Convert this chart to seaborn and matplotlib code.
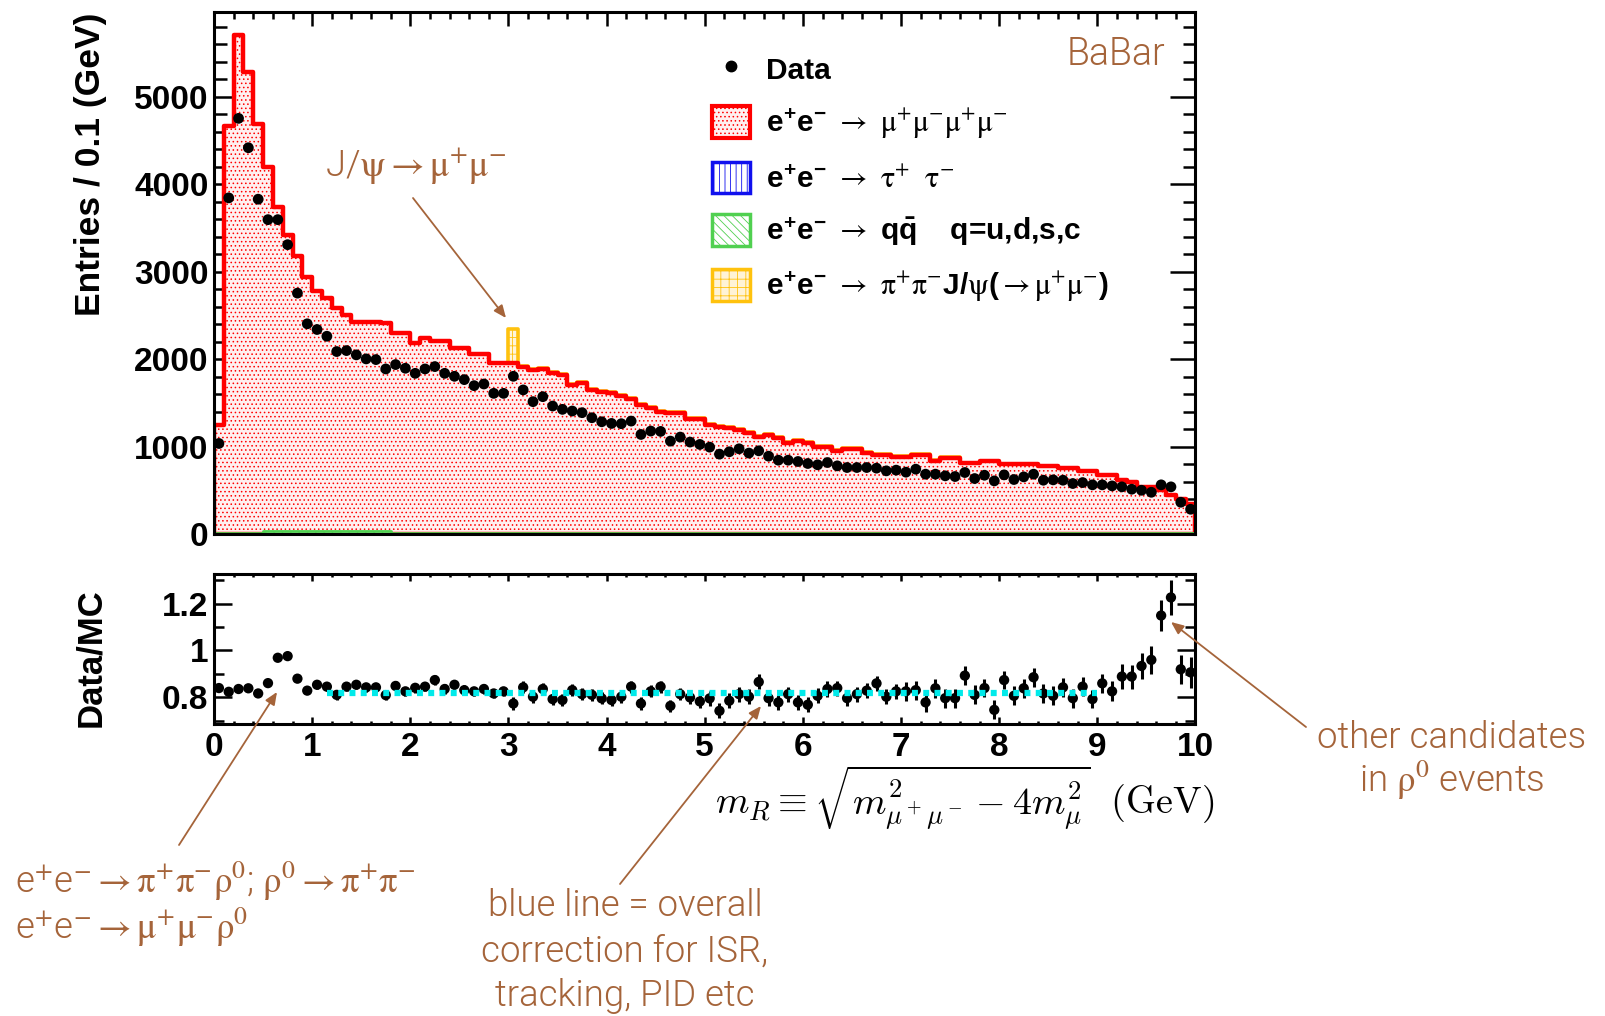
import numpy as np
import pandas as pd
import matplotlib
matplotlib.use("Agg")
import matplotlib.pyplot as plt
import seaborn as sns
from matplotlib import font_manager as fm
from matplotlib.ticker import MultipleLocator, FuncFormatter
from matplotlib.patches import Patch, FancyArrowPatch
from matplotlib.lines import Line2D
from matplotlib.transforms import IdentityTransform

# ---------------- data ----------------
bin_width = 0.1
mass_range = (0.0, 10.0)

data_counts = [1035, 3843, 4752, 4416, 3828, 3594, 3594, 3308, 2754, 2403,
               2338, 2261, 2086, 2097, 2048, 2002, 1994, 1887, 1937, 1895,
               1837, 1887, 1914, 1837, 1803, 1765, 1696, 1715, 1608, 1608,
               1803, 1647, 1513, 1570, 1463, 1425, 1406, 1387, 1329, 1283,
               1264, 1261, 1291, 1138, 1177, 1173, 1062, 1108, 1051, 1024,
               993, 913, 940, 974, 925, 951, 890, 844, 844, 829,
               806, 791, 817, 779, 760, 760, 760, 753, 722, 730,
               707, 741, 684, 684, 665, 657, 703, 634, 672, 607,
               676, 623, 653, 684, 615, 619, 615, 577, 588, 562,
               562, 550, 539, 512, 500, 477, 562, 539, 363, 283]

mc_4mu = [1238, 4656, 5699, 5279, 4683, 4160, 3702, 3377, 3136, 2899,
          2739, 2659, 2540, 2460, 2384, 2384, 2380, 2376, 2288, 2288,
          2181, 2231, 2204, 2204, 2116, 2116, 2048, 2048, 1944, 1944,
          1944, 1906, 1868, 1875, 1837, 1811, 1696, 1715, 1639, 1620,
          1608, 1570, 1532, 1467, 1429, 1390, 1379, 1371, 1303, 1303,
          1238, 1218, 1199, 1180, 1142, 1096, 1123, 1085, 1035, 1058,
          1035, 989, 982, 945, 960, 960, 920, 894, 894, 867,
          867, 894, 894, 829, 856, 856, 806, 806, 825, 825,
          791, 791, 791, 791, 768, 768, 741, 741, 714, 714,
          665, 665, 615, 588, 531, 531, 493, 435, 397, 340]

mc_tautau = [5] * 100

mc_qq = [3, 3, 3, 3, 3, 35, 35, 35, 35, 35,
         35, 35, 35, 35, 35, 35, 35, 35, 3, 3] + [3] * 80

mc_jpsi = [0] * 30 + [394] + [12] * 45 + [0] * 24

ratio_vals = [0.840, 0.824, 0.836, 0.839, 0.817, 0.861, 0.969, 0.976, 0.880, 0.829,
              0.854, 0.846, 0.811, 0.846, 0.854, 0.843, 0.843, 0.810, 0.849, 0.826,
              0.841, 0.846, 0.874, 0.836, 0.854, 0.831, 0.826, 0.836, 0.817, 0.826,
              0.774, 0.843, 0.803, 0.836, 0.793, 0.789, 0.831, 0.814, 0.811, 0.796,
              0.789, 0.803, 0.846, 0.774, 0.826, 0.846, 0.764, 0.814, 0.800, 0.783,
              0.796, 0.743, 0.786, 0.814, 0.803, 0.866, 0.797, 0.779, 0.814, 0.779,
              0.769, 0.807, 0.836, 0.840, 0.797, 0.814, 0.829, 0.860, 0.803, 0.826,
              0.826, 0.831, 0.779, 0.839, 0.797, 0.797, 0.893, 0.811, 0.840, 0.747,
              0.874, 0.807, 0.839, 0.886, 0.817, 0.807, 0.843, 0.797, 0.846, 0.793,
              0.860, 0.826, 0.889, 0.889, 0.934, 0.960, 1.149, 1.226, 0.920, 0.907]

ratio_errs = [0.012, 0.012, 0.012, 0.012, 0.012, 0.012, 0.012, 0.012, 0.012, 0.012,
              0.020, 0.020, 0.020, 0.020, 0.020, 0.020, 0.020, 0.020, 0.020, 0.020,
              0.020, 0.020, 0.020, 0.020, 0.020, 0.020, 0.020, 0.020, 0.020, 0.020,
              0.026, 0.026, 0.026, 0.026, 0.026, 0.026, 0.026, 0.026, 0.026, 0.026,
              0.026, 0.026, 0.026, 0.026, 0.026, 0.026, 0.026, 0.026, 0.026, 0.026,
              0.032, 0.032, 0.032, 0.032, 0.032, 0.032, 0.032, 0.032, 0.032, 0.032,
              0.032, 0.032, 0.032, 0.032, 0.032, 0.032, 0.032, 0.032, 0.032, 0.032,
              0.040, 0.040, 0.040, 0.040, 0.040, 0.040, 0.040, 0.040, 0.040, 0.040,
              0.040, 0.040, 0.040, 0.040, 0.040, 0.040, 0.040, 0.040, 0.040, 0.040,
              0.042, 0.043, 0.052, 0.051, 0.055, 0.059, 0.068, 0.076, 0.061, 0.065]

corr_x = [1.15, 9.0]
corr_y = [0.818, 0.818]

# ---------------- style ----------------
sns.set_style("ticks")
names = {f.name for f in fm.fontManager.ttflist}
narrow = "Liberation Sans Narrow" if "Liberation Sans Narrow" in names else "Liberation Sans"
serif_math = "STIXGeneral" if "STIXGeneral" in names else "Liberation Serif"


def pick_light():
    for fam in ["Roboto", "Open Sans", "Inter", "Noto Sans", "Lato"]:
        for f in fm.fontManager.ttflist:
            if f.name == fam and f.style == "normal" and f.weight in (300, "light"):
                return fam, 300
    return "Lato", "normal"


ANN_FAM, ANN_W = pick_light()

plt.rcParams.update({
    "font.family": ["Liberation Sans", "DejaVu Sans"],
    "font.weight": "bold",
    "mathtext.fontset": "custom",
    "mathtext.rm": serif_math + ":normal",
    "mathtext.it": serif_math + ":italic:normal",
    "mathtext.bf": "Liberation Sans:bold",
    "mathtext.sf": "Liberation Sans:normal",
    "mathtext.fallback": "stix",
    "hatch.linewidth": 0.6,
    "axes.edgecolor": "black",
    "xtick.color": "black",
    "ytick.color": "black",
    "text.color": "black",
    "xtick.direction": "in",
    "ytick.direction": "in",
    "xtick.top": True,
    "ytick.right": True,
    "axes.linewidth": 2.2,
})

BROWN = "#a5643a"
W, H = 1606, 1016
fig = plt.figure(figsize=(W / 100, H / 100), dpi=100)


def fx(x):
    return x / W


def fy(y):
    return 1 - y / H


L, R = 214, 1195.5
ax1 = fig.add_axes([fx(L), fy(534), (R - L) / W, (534 - 12) / H])
ax2 = fig.add_axes([fx(L), fy(723.5), (R - L) / W, (723.5 - 573.5) / H])

n_bins = len(data_counts)
centers = mass_range[0] + bin_width * (np.arange(n_bins) + 0.5)
tau = np.array(mc_tautau, float)
qq = np.array(mc_qq, float)
mu4 = np.array(mc_4mu, float)
jp = np.array(mc_jpsi, float)

RED, BLUE, GREEN, ORANGE = "#ff0000", "#1010ee", "#50d050", "#ffc20e"
PINK = "#fff0f0"
layers = [
    (tau + qq + mu4 + jp, "#fff6dc", ORANGE, "++", 2.6),
    (tau + qq + mu4, PINK, RED, "....", 3.2),
    (tau + qq, "white", GREEN, "\\\\\\\\", 2.0),
    (tau, "white", BLUE, "|||", 2.0),
]
for heights, fc, ec, hatch, lw in layers:
    df = pd.DataFrame({"m": centers, "w": heights})
    sns.histplot(data=df, x="m", weights="w", binwidth=bin_width, binrange=mass_range,
                 element="step", fill=True, ax=ax1, color=ec, alpha=1, linewidth=lw)
    coll = ax1.collections[-1]
    coll.set_facecolor(fc)
    coll.set_edgecolor(ec)
    coll.set_hatch(hatch)
    coll.set_linewidth(lw)

sns.scatterplot(x=centers, y=data_counts, ax=ax1, color="black", s=60,
                edgecolor="none", zorder=5, legend=False)

# ratio panel
ax2.errorbar(centers, ratio_vals, yerr=ratio_errs, fmt="none", ecolor="black",
             elinewidth=2.2, capsize=0, zorder=4)
sns.scatterplot(x=centers, y=ratio_vals, ax=ax2, color="black", s=55,
                edgecolor="none", zorder=5, legend=False)
sns.lineplot(x=corr_x, y=corr_y, ax=ax2, color="#00eaea", linewidth=4.5,
             linestyle=(0, (0.95, 0.85)), zorder=6)

# axes
for ax in (ax1, ax2):
    ax.set_xlim(0, 10)
    ax.xaxis.set_major_locator(MultipleLocator(1))
    ax.xaxis.set_minor_locator(MultipleLocator(0.2))
    ax.set_xlabel("")
    ax.set_ylabel("")
    for s in ax.spines.values():
        s.set_visible(True)
        s.set_linewidth(2.2)
        s.set_zorder(7)

ax1.set_ylim(0, 5968)
ax1.yaxis.set_major_locator(MultipleLocator(1000))
ax1.yaxis.set_minor_locator(MultipleLocator(200))
ax1.tick_params(axis="y", which="major", length=18, width=1.8, labelsize=24, pad=4)
ax1.tick_params(axis="y", which="minor", length=9, width=1.8)
ax1.tick_params(axis="x", which="major", length=10, width=1.8, labelbottom=False)
ax1.tick_params(axis="x", which="minor", length=5, width=1.8)

ax2.set_ylim(0.689, 1.328)
ax2.yaxis.set_major_locator(MultipleLocator(0.2))
ax2.yaxis.set_minor_locator(MultipleLocator(0.1))
ax2.yaxis.set_major_formatter(FuncFormatter(lambda v, p: f"{v:g}"))
ax2.tick_params(axis="y", which="major", length=13, width=1.8, labelsize=24, pad=4)
ax2.tick_params(axis="y", which="minor", length=7, width=1.8)
ax2.tick_params(axis="x", which="major", length=5, width=1.8, labelsize=24, pad=6)
ax2.tick_params(axis="x", which="minor", length=2.5, width=1.8)
for t in ax2.get_xticklabels():
    t.set_family(narrow)
    t.set_fontweight("bold")

# axis titles
fig.text(fx(91), fy(164), "Entries / 0.1 (GeV)", rotation=90, ha="center",
         va="center", fontsize=25.5, fontweight="bold")
fig.text(fx(91), fy(658), "Data/MC", rotation=90, ha="center", va="center",
         fontsize=25, fontweight="bold")
fig.text(fx(965), fy(798),
         r"$m_R \equiv \sqrt{m^2_{\mu^+\mu^-} - 4m^2_{\mu}}\ \ \mathrm{(GeV)}$",
         math_fontfamily="cm", fontsize=27.5, ha="center", va="center")

# legend
handles = [
    Line2D([0], [0], marker="o", ls="none", color="black", markersize=7.5),
    Patch(facecolor=PINK, edgecolor=RED, hatch="....", lw=3),
    Patch(facecolor="white", edgecolor=BLUE, hatch="|||", lw=2.5),
    Patch(facecolor="white", edgecolor=GREEN, hatch="\\\\\\\\", lw=2.5),
    Patch(facecolor="#fff3d6", edgecolor=ORANGE, hatch="++", lw=2.5),
]
EE = r"e$^{\mathbf{+}}$e$^{\mathbf{-}}$ $\rightarrow$ "
labels = [
    "Data",
    EE + r"$\mathrm{\mu^{+}\mu^{-}\mu^{+}\mu^{-}}$",
    EE + r"$\mathrm{\tau^{+}\ \ \tau^{-}}$",
    EE + r"$\mathbf{q\bar{q}}$    q=u,d,s,c",
    EE + r"$\mathrm{\pi^{+}\pi^{-}}$J/$\mathrm{\psi}$($\rightarrow\mathrm{\mu^{+}\mu^{-}}$)",
]
leg = ax1.legend(handles, labels, loc="upper left",
                 bbox_to_anchor=(fx(712), fy(53)), bbox_transform=fig.transFigure,
                 frameon=False, prop={"family": "Liberation Sans", "weight": "bold", "size": 21.5},
                 handlelength=1.27, handleheight=1.27, handletextpad=0.55,
                 labelspacing=0.695, borderpad=0, borderaxespad=0)
for t in leg.get_texts():
    t.set_math_fontfamily("custom")

# annotations
ann = dict(fontsize=26.4, family=[ANN_FAM, "DejaVu Sans"], weight=ANN_W,
           color=BROWN, math_fontfamily="custom")
fig.text(fx(1165), fy(54), "BaBar", ha="right", va="center", fontsize=27,
         family=[ANN_FAM, "DejaVu Sans"], weight=ANN_W, color=BROWN)
fig.text(fx(416), fy(167), r"J/$\mathrm{\psi}\rightarrow\mathrm{\mu^{+}\mu^{-}}$",
         ha="center", va="center", **ann)
fig.text(fx(15), fy(881),
         r"e$^{+}$e$^{-}\rightarrow\mathrm{\pi^{+}\pi^{-}\rho^{0}}$; $\mathrm{\rho^{0}}\rightarrow\mathrm{\pi^{+}\pi^{-}}$",
         ha="left", va="center", **ann)
fig.text(fx(15), fy(927), r"e$^{+}$e$^{-}\rightarrow\mathrm{\mu^{+}\mu^{-}\rho^{0}}$",
         ha="left", va="center", **ann)
for txt, yy in [("blue line = overall", 906), ("correction for ISR,", 952),
                ("tracking, PID etc", 996)]:
    fig.text(fx(625), fy(yy), txt, ha="center", va="center", **ann)
fig.text(fx(1452), fy(738), "other candidates", ha="center", va="center", **ann)
fig.text(fx(1452), fy(780), r"in $\mathrm{\rho^{0}}$ events", ha="center", va="center", **ann)


def arrow(x0, y0, x1, y1):
    fig.add_artist(FancyArrowPatch((x0, H - y0), (x1, H - y1), transform=IdentityTransform(),
                                   arrowstyle="-|>,head_length=0.75,head_width=0.32",
                                   mutation_scale=10, color=BROWN, lw=1.3,
                                   shrinkA=0, shrinkB=0, zorder=10))


arrow(413, 198, 506, 318)
arrow(179, 845, 277, 692)
arrow(620, 884, 761, 706)
arrow(1306, 727, 1171, 622)

fig.savefig("out.png", dpi=100)
